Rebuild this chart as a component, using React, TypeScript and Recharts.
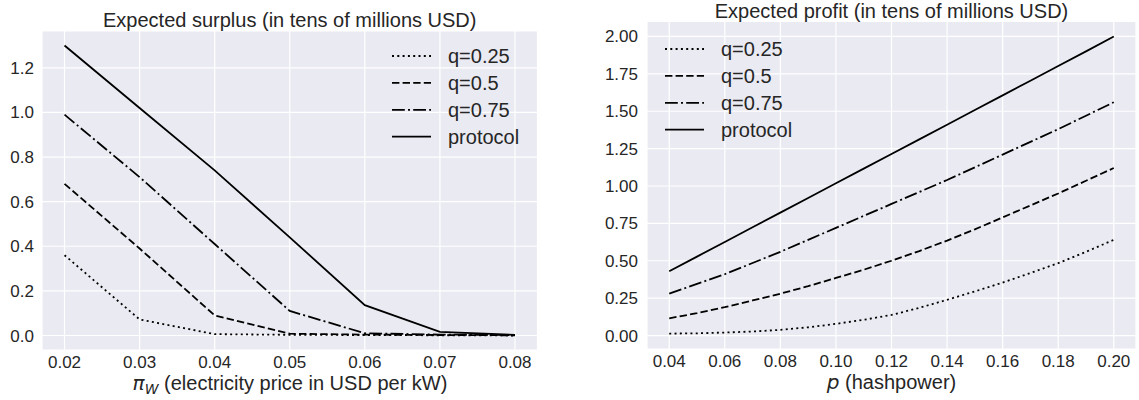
import { CartesianGrid, Legend, Line, LineChart, XAxis, YAxis } from "recharts";

const FONT = "'Liberation Sans', Arial, sans-serif";
const MATH = "'DejaVu Sans', sans-serif";
const TEXT = "#262626";
const LW = 1.8;

// left panel: expected surplus vs electricity price
const priceTicks = [0.02, 0.03, 0.04, 0.05, 0.06, 0.07, 0.08];
const surplusQ25 = [0.36, 0.072, 0.006, 0.003, 0.002, 0.001, 0.0];
const surplusQ50 = [0.68, 0.39, 0.09, 0.008, 0.004, 0.002, 0.001];
const surplusQ75 = [0.99, 0.71, 0.41, 0.11, 0.01, 0.004, 0.002];
const surplusProtocol = [1.3, 1.02, 0.74, 0.44, 0.136, 0.016, 0.003];
const surplusYTicks = [0, 0.2, 0.4, 0.6, 0.8, 1.0, 1.2];

// right panel: expected profit vs hashpower
const hashpower = [
  0.04, 0.05, 0.06, 0.07, 0.08, 0.09, 0.1, 0.11, 0.12, 0.13, 0.14, 0.15, 0.16, 0.17, 0.18, 0.19, 0.2,
];
const profitQ25 = [
  0.013, 0.015, 0.02, 0.027, 0.038, 0.055, 0.078, 0.105, 0.138, 0.185, 0.239, 0.295, 0.354, 0.418, 0.484,
  0.56, 0.64,
];
const profitQ50 = [
  0.115, 0.15, 0.19, 0.235, 0.28, 0.33, 0.385, 0.44, 0.5, 0.565, 0.635, 0.71, 0.79, 0.87, 0.95, 1.035, 1.12,
];
const profitQ75 = [
  0.28, 0.345, 0.41, 0.485, 0.56, 0.64, 0.72, 0.8, 0.88, 0.96, 1.04, 1.125, 1.21, 1.295, 1.38, 1.47, 1.56,
];
const profitProtocol = [
  0.43, 0.528, 0.626, 0.724, 0.822, 0.92, 1.018, 1.116, 1.214, 1.312, 1.41, 1.508, 1.606, 1.704, 1.802,
  1.9, 2.0,
];
const hashTicks = [0.04, 0.06, 0.08, 0.1, 0.12, 0.14, 0.16, 0.18, 0.2];
const profitYTicks = [0, 0.25, 0.5, 0.75, 1.0, 1.25, 1.5, 1.75, 2.0];

const series = [
  { key: "q25", name: "q=0.25", dash: "2 3.3" },
  { key: "q50", name: "q=0.5", dash: "7.4 3.2" },
  { key: "q75", name: "q=0.75", dash: "12.8 3.2 2 3.2" },
  { key: "protocol", name: "protocol", dash: undefined as string | undefined },
];

const surplusData = priceTicks.map((x, i) => ({
  x,
  q25: surplusQ25[i],
  q50: surplusQ50[i],
  q75: surplusQ75[i],
  protocol: surplusProtocol[i],
}));

const profitData = hashpower.map((x, i) => ({
  x,
  q25: profitQ25[i],
  q50: profitQ50[i],
  q75: profitQ75[i],
  protocol: profitProtocol[i],
}));

const tick = { fontSize: 17, fill: TEXT, fontFamily: FONT };

function LegendBox() {
  return (
    <svg width={160} height={115} style={{ display: "block", overflow: "visible" }}>
      {series.map((s, i) => {
        const y = 13 + i * 26.9;
        return (
          <g key={s.key}>
            <line x1={0} x2={39} y1={y} y2={y} stroke="#000" strokeWidth={LW} strokeDasharray={s.dash} />
            <text x={56} y={y + 7} fontSize={20} fill={TEXT} fontFamily={FONT}>
              {s.name}
            </text>
          </g>
        );
      })}
    </svg>
  );
}

function renderLines() {
  return series.map((s) => (
    <Line
      key={s.key}
      type="linear"
      dataKey={s.key}
      name={s.name}
      stroke="#000"
      strokeWidth={LW}
      strokeDasharray={s.dash}
      dot={false}
      activeDot={false}
      isAnimationActive={false}
    />
  ));
}

export default function App() {
  return (
    <div style={{ position: "absolute", left: 0, top: 0, width: 1139, height: 400, background: "#fff" }}>
      <div style={{ position: "absolute", left: 0, top: 0 }}>
        <LineChart
          width={545}
          height={400}
          data={surplusData}
          margin={{ top: 31, right: 7.5, bottom: 0, left: 0 }}
        >
          <CartesianGrid fill="#EAEAF2" fillOpacity={1} stroke="#fff" strokeWidth={1.2} />
          <XAxis
            type="number"
            dataKey="x"
            domain={[0.017, 0.083]}
            ticks={priceTicks}
            interval={0}
            allowDataOverflow
            tickFormatter={(v: number) => v.toFixed(2)}
            axisLine={false}
            tickLine={false}
            tick={tick}
            tickSize={6}
            tickMargin={0}
            height={50}
            label={() => (
              <text x={290} y={390} textAnchor="middle" fontSize={20} fill={TEXT} fontFamily={FONT}>
                <tspan fontFamily={MATH} fontStyle="italic">π</tspan>
                <tspan fontFamily={MATH} fontStyle="italic" fontSize={14} dy={4}>W</tspan>
                <tspan dy={-4}> (electricity price in USD per kW)</tspan>
              </text>
            )}
          />
          <YAxis
            type="number"
            domain={[-0.065, 1.365]}
            ticks={surplusYTicks}
            interval={0}
            allowDataOverflow
            tickFormatter={(v: number) => v.toFixed(1)}
            axisLine={false}
            tickLine={false}
            tick={tick}
            width={42}
          />
          <Legend
            layout="vertical"
            align="center"
            verticalAlign="middle"
            content={() => <LegendBox />}
            wrapperStyle={{ left: 392, top: 43, width: 160 }}
          />
          {renderLines()}
        </LineChart>
      </div>

      <div style={{ position: "absolute", left: 600, top: 0 }}>
        <LineChart
          width={539}
          height={400}
          data={profitData}
          margin={{ top: 21.5, right: 3, bottom: 0, left: 0 }}
        >
          <CartesianGrid fill="#EAEAF2" fillOpacity={1} stroke="#fff" strokeWidth={1.2} />
          <XAxis
            type="number"
            dataKey="x"
            domain={[0.032, 0.208]}
            ticks={hashTicks}
            interval={0}
            allowDataOverflow
            tickFormatter={(v: number) => v.toFixed(2)}
            axisLine={false}
            tickLine={false}
            tick={tick}
            tickSize={6}
            tickMargin={0}
            height={51}
            label={() => (
              <text x={291.5} y={389} textAnchor="middle" fontSize={20} fill={TEXT} fontFamily={FONT}>
                <tspan fontFamily={MATH} fontStyle="italic">p</tspan>
                <tspan> (hashpower)</tspan>
              </text>
            )}
          />
          <YAxis
            type="number"
            domain={[-0.09, 2.1]}
            ticks={profitYTicks}
            interval={0}
            allowDataOverflow
            tickFormatter={(v: number) => v.toFixed(2)}
            axisLine={false}
            tickLine={false}
            tick={tick}
            tickMargin={3}
            width={47}
          />
          <Legend
            layout="vertical"
            align="center"
            verticalAlign="middle"
            content={() => <LegendBox />}
            wrapperStyle={{ left: 65, top: 36.3, width: 160 }}
          />
          {renderLines()}
        </LineChart>
      </div>

      <svg
        width={1139}
        height={400}
        style={{ position: "absolute", left: 0, top: 0, pointerEvents: "none" }}
      >
        <text x={289.75} y={26.5} textAnchor="middle" fontSize={20} fill={TEXT} fontFamily={FONT}>
          Expected surplus (in tens of millions USD)
        </text>
        <text x={891.5} y={18} textAnchor="middle" fontSize={20} fill={TEXT} fontFamily={FONT}>
          Expected profit (in tens of millions USD)
        </text>
      </svg>
    </div>
  );
}
